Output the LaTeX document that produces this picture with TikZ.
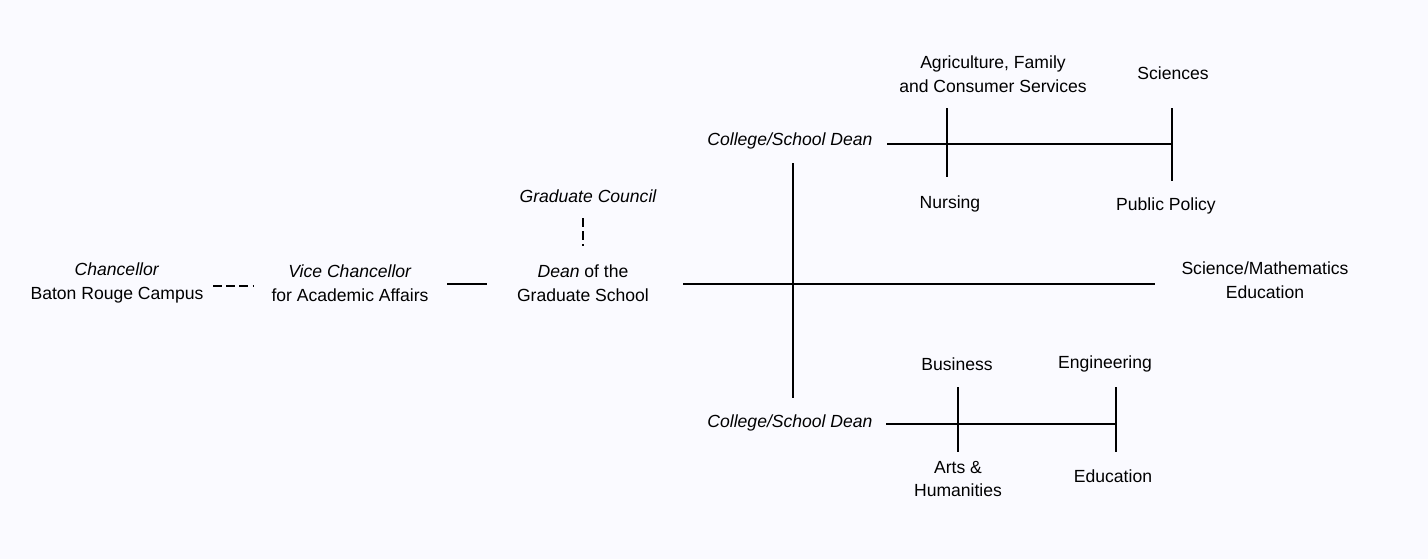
\documentclass[tikz,border=0pt]{standalone}
\usepackage{fontspec}
\setmainfont{Liberation Sans}
\begin{document}
\begin{tikzpicture}[x=0.02cm,y=-0.02cm,
  lbl/.style={font=\fontsize{10}{13.5}\selectfont,align=center,inner sep=1pt},
  it/.style={lbl,font=\fontsize{10}{13.5}\selectfont\itshape},
  ln/.style={line width=1pt,black},
  dl/.style={ln,dash pattern=on 5pt off 2.5pt}]
\fill[white!98!blue] (0,0) rectangle (1428,559);
\useasboundingbox (0,0) rectangle (1428,559);
% nodes
\node[lbl] (ch) at (117,283) {\textit{Chancellor}\\Baton Rouge Campus};
\node[lbl] (vc) at (350,283) {\textit{Vice Chancellor}\\for Academic Affairs};
\node[lbl] (dean) at (583,283) {\textit{Dean} of the\\Graduate School};
\node[it] (gc) at (588,196) {Graduate Council};
\node[it] (cd1) at (790,141) {College/School Dean};
\node[it] (cd2) at (790,423) {College/School Dean};
\node[lbl] (agr) at (993,74) {Agriculture, Family\\and Consumer Services};
\node[lbl] (sci) at (1173,73) {Sciences};
\node[lbl] (nur) at (950,204) {Nursing};
\node[lbl] (pp) at (1166,206) {Public Policy};
\node[lbl] (sme) at (1265,280) {Science/Mathematics\\Education};
\node[lbl] (bus) at (957,364) {Business};
\node[lbl] (eng) at (1105,364) {Engineering};
\node[lbl] (ah) at (958,479) {Arts \&\\Humanities};
\node[lbl] (edu) at (1113,476) {Education};
% coordinates
\coordinate (a1) at (213,286); \coordinate (a2) at (253,286);
\coordinate (b1) at (447,284); \coordinate (b2) at (487,284);
\coordinate (g1) at (583,218); \coordinate (g2) at (583,246);
\coordinate (m1) at (683,284); \coordinate (m2) at (1155,284);
\coordinate (v1) at (793,163); \coordinate (v2) at (793,398);
\coordinate (u1) at (887,144); \coordinate (u2) at (1172,144);
\coordinate (ua1) at (947,108); \coordinate (ua2) at (947,177);
\coordinate (us1) at (1172,108); \coordinate (us2) at (1172,181);
\coordinate (l1) at (886,424); \coordinate (l2) at (1116,424);
\coordinate (lb1) at (958,387); \coordinate (lb2) at (958,452);
\coordinate (le1) at (1116,387); \coordinate (le2) at (1116,452);
% connectors
\draw[dl] (a1) -- (a2);
\draw[ln] (b1) -- (b2);
\draw[dl] (g1) -- (g2);
\draw[ln] (m1) -- (m2);
\draw[ln] (v1) -- (v2);
\draw[ln] (u1) -- (u2);
\draw[ln] (ua1) -- (ua2);
\draw[ln] (us1) -- (us2);
\draw[ln] (l1) -- (l2);
\draw[ln] (lb1) -- (lb2);
\draw[ln] (le1) -- (le2);
\end{tikzpicture}
\end{document}
